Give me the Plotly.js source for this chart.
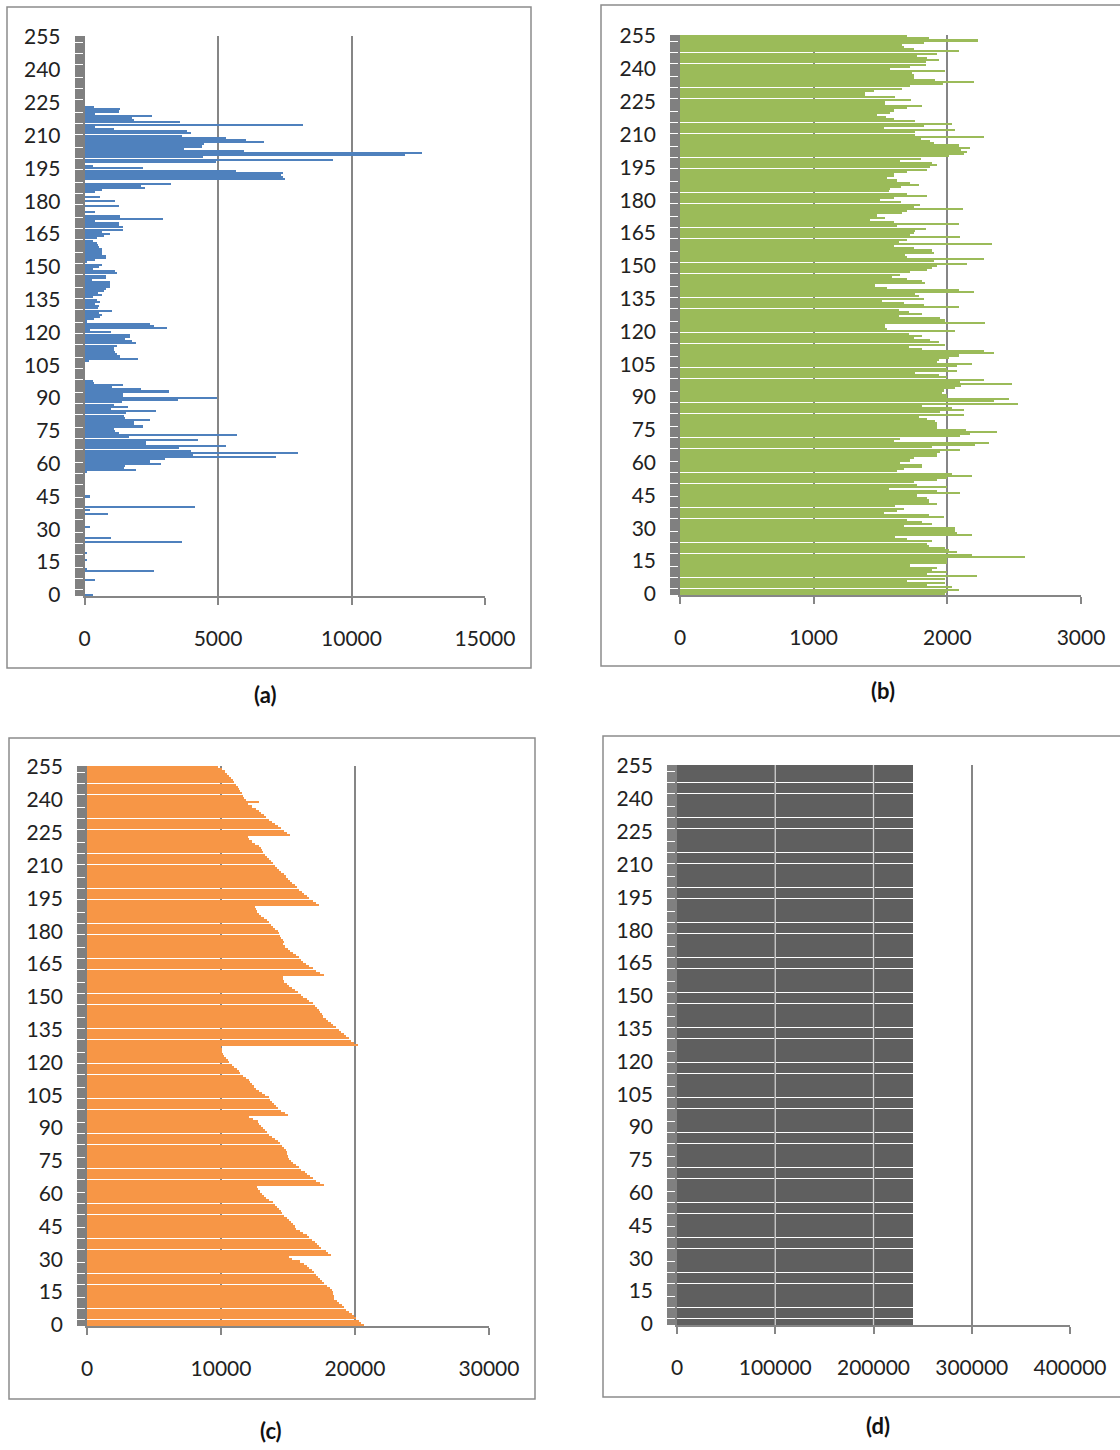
<!DOCTYPE html>
<html><head><meta charset="utf-8">
<script src="https://cdn.plot.ly/plotly-3.0.1.min.js"></script>
<style>html,body{margin:0;padding:0;background:#fff;}#chart{width:1120px;height:1450px;}
#chart .barlayer path{shape-rendering:crispEdges;}</style>
</head><body><div id="chart"></div>
<script>
// Histogram (a): pixel counts per grey level 0..255
const histA = [
310,0,0,0,0,0,0,380,0,0,
0,2610,100,0,0,0,110,0,0,110,
0,0,0,0,3660,0,1000,0,0,0,
0,190,0,0,0,0,0,880,0,190,
4140,0,0,0,0,190,0,0,0,0,
0,0,0,0,0,0,90,1910,1470,1500,
2870,2470,3010,7180,4080,7990,4000,3540,5300,2320,
2320,4250,1660,5710,1280,1150,1100,2180,1840,1840,
2470,1530,1490,1570,2660,1000,1630,1090,1400,3500,
4980,1430,1430,3160,2120,1030,1430,340,300,0,
0,0,0,0,0,0,0,150,2010,1340,
1200,1150,1100,1090,1200,1910,1780,1530,1720,1720,
1000,200,3100,2600,2470,110,340,590,650,530,
1030,500,560,400,590,460,300,650,500,720,
820,940,940,940,280,800,800,1220,1150,300,
530,650,100,400,800,800,650,650,650,530,
500,460,300,460,720,940,650,1430,1430,1280,
1280,400,2950,1340,0,380,0,0,1280,0,
1150,0,590,0,380,650,2260,2100,3230,0,
7520,7450,7370,7430,5670,2200,300,0,4920,9310,
4420,12010,12640,5990,3730,4400,4480,6740,6050,5300,
3660,3980,3850,1090,380,8200,3560,1850,1780,2530,
400,1280,1340,350,0,0,0,0,0,0,
0,0,0,0,0,0,0,0,0,0,
0,0,0,0,0,0,0,0,0,0,
0,0,0,0,0,0
];
// Histogram (b)
const histB = [
1985,1998,2090,2035,1848,1985,1698,1985,2222,1848,
1998,1885,1923,1723,1998,1998,1998,2583,2184,2072,
2010,1985,1860,1848,1885,1698,1611,2184,2072,2060,
2060,1673,1885,1810,1698,1973,1860,1524,1624,1673,
1611,1923,1860,1860,1848,1773,2097,1923,1561,1998,
1773,1748,1923,2000,2184,2035,1624,1673,1810,1810,
1648,1723,1748,1923,1923,1948,2097,1885,2209,2309,
1600,1648,2097,2172,2371,2142,1923,1923,1923,1910,
1850,1786,2127,1948,2122,2035,1810,2526,2347,2459,
1998,1998,1960,1973,2060,2100,2484,2097,2272,2000,
1935,1760,2072,1998,2072,2184,1923,1935,2010,2085,
2347,2272,1810,1711,1985,1935,1873,1748,1810,1711,
2060,1549,1536,1536,2284,1985,1948,1636,1810,1710,
1636,2090,1823,1673,1511,1823,1790,1760,2197,2090,
1549,1461,1835,1810,1700,1586,1648,1723,1848,1885,
1923,2147,1900,2277,1698,1686,1903,1885,1748,1600,
2334,1636,1700,2097,1723,1750,1760,1840,1624,2090,
1600,1424,1536,1474,1660,1700,2115,1750,1798,1650,
1499,1600,1848,1700,1561,1574,1650,1786,1723,1620,
1549,1600,1600,1700,1848,1870,1923,1885,1648,1800,
2010,2122,2147,2100,2172,2085,1900,1873,1800,2272,
1760,1760,2060,1524,1823,2035,1760,1600,1540,1474,
1570,1600,1700,1810,1536,1536,1731,1611,1387,1387,
1449,1660,1720,1965,2197,1910,1748,1748,1736,1980,
1574,1723,1840,1840,1940,1850,1773,1923,2090,1748,
1673,1660,1823,2227,1860,1698
];
// Histogram (c)
const histC = [
20650,20450,20300,20080,19900,19750,19550,19350,19200,19000,
18800,18650,18460,18400,18350,18330,18300,18100,17900,17700,
17550,17400,17250,17100,16970,16800,16600,16450,16200,15900,
15300,15100,18200,18000,17800,17460,17350,17200,17000,16800,
16600,16400,16150,15900,15600,15500,15350,15200,15050,14900,
14700,14550,14450,14300,14150,14000,13850,13600,13360,13200,
13050,12900,12740,12650,17660,17400,17100,16840,16650,16450,
16250,15970,15800,15600,15400,15250,15100,15000,14950,14900,
14850,14700,14550,14400,14230,14000,13800,13600,13400,13300,
13150,13000,12850,12740,12400,12100,15030,14800,14500,14250,
14100,13950,13800,13650,13550,13300,13050,12800,12600,12450,
12300,12200,12100,11900,11650,11450,11350,11200,11000,10800,
10620,10500,10350,10250,10150,10100,10050,10000,20200,19900,
19700,19550,19350,19150,18960,18800,18550,18330,18200,18000,
17800,17590,17500,17400,17340,17200,17000,16840,16600,16400,
16150,15950,15720,15500,15300,15100,14900,14730,14650,14600,
17660,17400,17100,16840,16600,16350,16150,15950,15850,15600,
15400,15150,15000,14800,14650,14730,14600,14500,14400,14300,
14230,14050,13900,13750,13600,13400,13200,13000,12800,12650,
12600,12500,17340,17100,16850,16600,16400,16200,16050,15850,
15700,15500,15300,15150,14980,14850,14700,14500,14350,14200,
14000,13850,13700,13600,13450,13300,13150,13050,12990,12800,
12550,12300,12100,12000,15170,14950,14700,14450,14230,14050,
13800,13550,13360,13200,13000,12800,12600,12300,12000,12860,
11860,11750,11650,11550,11450,11370,11250,11100,10990,10900,
10750,10620,10450,10300,10100,9800
];
// Histogram (d): flat
const histD = [
240000,240000,240000,240000,240000,240000,240000,240000,240000,240000,240000,240000,240000,240000,240000,240000,
240000,240000,240000,240000,240000,240000,240000,240000,240000,240000,240000,240000,240000,240000,240000,240000,
240000,240000,240000,240000,240000,240000,240000,240000,240000,240000,240000,240000,240000,240000,240000,240000,
240000,240000,240000,240000,240000,240000,240000,240000,240000,240000,240000,240000,240000,240000,240000,240000,
240000,240000,240000,240000,240000,240000,240000,240000,240000,240000,240000,240000,240000,240000,240000,240000,
240000,240000,240000,240000,240000,240000,240000,240000,240000,240000,240000,240000,240000,240000,240000,240000,
240000,240000,240000,240000,240000,240000,240000,240000,240000,240000,240000,240000,240000,240000,240000,240000,
240000,240000,240000,240000,240000,240000,240000,240000,240000,240000,240000,240000,240000,240000,240000,240000,
240000,240000,240000,240000,240000,240000,240000,240000,240000,240000,240000,240000,240000,240000,240000,240000,
240000,240000,240000,240000,240000,240000,240000,240000,240000,240000,240000,240000,240000,240000,240000,240000,
240000,240000,240000,240000,240000,240000,240000,240000,240000,240000,240000,240000,240000,240000,240000,240000,
240000,240000,240000,240000,240000,240000,240000,240000,240000,240000,240000,240000,240000,240000,240000,240000,
240000,240000,240000,240000,240000,240000,240000,240000,240000,240000,240000,240000,240000,240000,240000,240000,
240000,240000,240000,240000,240000,240000,240000,240000,240000,240000,240000,240000,240000,240000,240000,240000,
240000,240000,240000,240000,240000,240000,240000,240000,240000,240000,240000,240000,240000,240000,240000,240000,
240000,240000,240000,240000,240000,240000,240000,240000,240000,240000,240000,240000,240000,240000,240000,240000
];
const yTickVals = [0,15,30,45,60,75,90,105,120,135,150,165,180,195,210,225,240,255];
const xTicksA = [0,5000,10000,15000];
const xTicksB = [0,1000,2000,3000];
const xTicksC = [0,10000,20000,30000];
const xTicksD = [0,100000,200000,300000,400000];
const captions = ['(a)','(b)','(c)','(d)'];

const levels = [];
for (let i = 0; i < 256; i++) levels.push(i);

const W = 1120, H = 1450;
const FONT = 'Lato, "Open Sans", sans-serif';
const GRID = '#868686';
const panels = [
  {vals: histA, color: '#4F81BD', xt: xTicksA, px: [84.5, 485], py: [36, 596], box: [7, 7, 531, 668], cap: [265, 695]},
  {vals: histB, color: '#9BBB59', xt: xTicksB, px: [680, 1081], py: [35, 595], box: [601, 5, 1125, 666], cap: [883, 690]},
  {vals: histC, color: '#F79646', xt: xTicksC, px: [87, 489], py: [766, 1326], box: [9, 738, 535, 1399], cap: [271, 1430]},
  {vals: histD, color: '#5f5f5f', xt: xTicksD, px: [677, 1070], py: [765, 1325], box: [603, 736, 1125, 1397], cap: [878, 1425]}
];

const data = [];
const layout = {
  width: W, height: H, margin: {l: 0, r: 0, t: 0, b: 0},
  paper_bgcolor: '#fff', plot_bgcolor: '#fff',
  showlegend: false, bargap: 0.06,
  shapes: [], annotations: []
};

panels.forEach((p, i) => {
  const s = i === 0 ? '' : String(i + 1);
  data.push({
    type: 'bar', orientation: 'h', x: p.vals, y: levels,
    xaxis: 'x' + s, yaxis: 'y' + s,
    marker: {color: p.color, line: {width: 0}},
    hoverinfo: 'skip'
  });
  layout['xaxis' + s] = {
    domain: [p.px[0] / W, p.px[1] / W], anchor: 'y' + s,
    range: [p.xt[0], p.xt[p.xt.length - 1]],
    tickmode: 'array', tickvals: p.xt, ticktext: p.xt.map(String),
    showgrid: true, gridcolor: GRID, gridwidth: 1.7,
    showline: true, linecolor: GRID, linewidth: 1.7,
    ticks: 'outside', ticklen: 7, tickwidth: 1.7, tickcolor: GRID,
    ticklabelstandoff: 16,
    tickfont: {family: FONT, size: 21, color: '#222'},
    zeroline: false, fixedrange: true
  };
  layout['yaxis' + s] = {
    domain: [1 - p.py[1] / H, 1 - p.py[0] / H], anchor: 'x' + s,
    range: [-0.5, 255.5],
    tickmode: 'array', tickvals: yTickVals, ticktext: yTickVals.map(String),
    ticks: 'outside', ticklen: 8, tickwidth: 2, tickcolor: '#808080',
    minor: {tickmode: 'array', tickvals: levels, ticks: 'outside', ticklen: 8, tickwidth: 2, tickcolor: '#808080', showgrid: false},
    showgrid: false, showline: true, linecolor: '#808080', linewidth: 1.5,
    zeroline: false, ticklabelstandoff: 10,
    tickfont: {family: FONT, size: 21, color: '#222'},
    fixedrange: true
  };
  layout.shapes.push({
    type: 'rect', xref: 'paper', yref: 'paper',
    x0: p.box[0] / W, x1: p.box[2] / W, y0: 1 - p.box[3] / H, y1: 1 - p.box[1] / H,
    line: {color: '#8c8c8c', width: 1.5}, fillcolor: 'rgba(0,0,0,0)', layer: 'below'
  });
  layout.annotations.push({
    xref: 'paper', yref: 'paper', x: p.cap[0] / W, y: 1 - p.cap[1] / H,
    xanchor: 'center', yanchor: 'middle', showarrow: false,
    text: '<b>' + captions[i] + '</b>',
    font: {family: FONT, size: 22, color: '#111'}
  });
});

// light grid lines visible across the dark bars of panel (d)
[xTicksD[1], xTicksD[2]].forEach(v => {
  layout.shapes.push({
    type: 'line', xref: 'x4', yref: 'y4 domain', x0: v, x1: v, y0: 0, y1: 1,
    line: {color: '#d0d0d0', width: 1.3}, layer: 'above'
  });
});

Plotly.newPlot('chart', data, layout, {displayModeBar: false, responsive: false});
</script></body></html>
